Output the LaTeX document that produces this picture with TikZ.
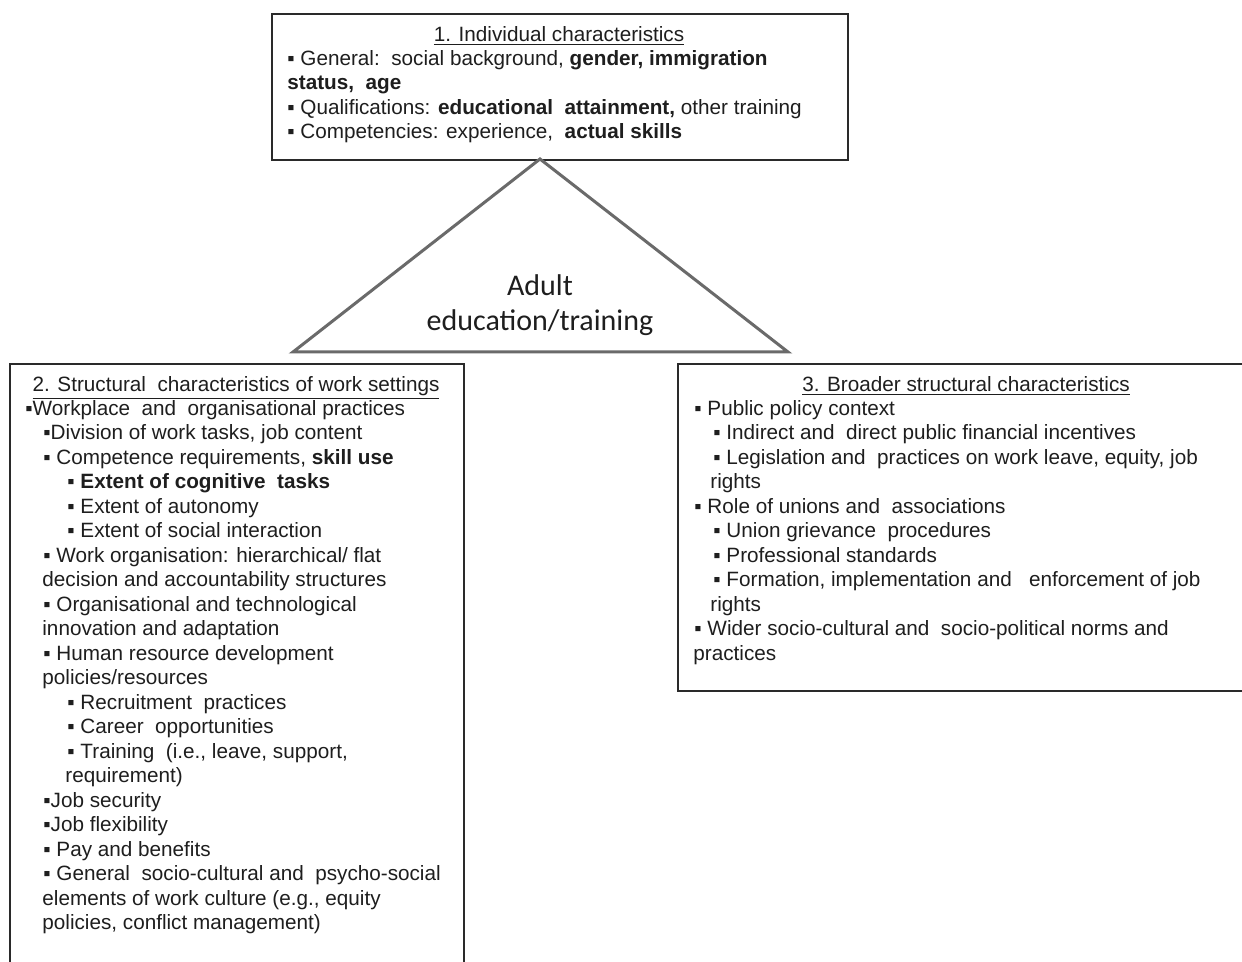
\documentclass[tikz,border=0pt]{standalone}
\usepackage{fontspec}
\setmainfont{Liberation Sans}
\newfontfamily\calib{Carlito}
\definecolor{ink}{HTML}{1E1E1E}
\definecolor{edge}{HTML}{2A2A2A}
\definecolor{trig}{HTML}{6A6A6A}
\newcommand{\bl}{\char"25AA\relax}
\begin{document}
\begin{tikzpicture}[x=0.5pt,y=-0.5pt,
  boxframe/.style={draw=edge, line width=1.2pt, fill=none, anchor=north west, inner sep=0pt},
  boxtitle/.style={anchor=base, inner sep=0pt, text=ink, font=\fontsize{10.35}{12.25}\selectfont},
  boxbody/.style={anchor=north west, inner sep=0pt, align=left, text=ink, font=\fontsize{10.35}{12.25}\selectfont},
  trishape/.style={draw=trig, line width=1.5pt, line join=miter},
  trilabel/.style={align=center, inner sep=0pt, text=ink, font=\calib\fontsize{15}{17.5}\selectfont}]
\useasboundingbox (0,0) rectangle (1242,962);
\fill[white] (0,0) rectangle (1242,962);

% boxes
\node[boxframe, minimum width=288pt, minimum height=73pt] (box1) at (271,13) {};
\node[boxframe, minimum width=227pt, minimum height=306pt] (box2) at (9,363) {};
\node[boxframe, minimum width=289pt, minimum height=163.5pt] (box3) at (677,363) {};

% triangle
\coordinate (apex) at (540,159);
\coordinate (bleft) at (293,352);
\coordinate (bright) at (788,352);
\draw[trishape] (apex) -- (bright) -- (bleft) -- cycle;
\node[trilabel] (adult) at (540,305) {Adult\\education/training};

% box 1
\node[boxtitle] (t1) at (559,41.5) {\underline{1. Individual characteristics}};
\node[boxbody] (b1) at (287,50) {%
\bl\ General:\ \ social background, \textbf{gender, immigration}\\
\textbf{status,\ \ age}\\
\bl\ Qualifications: \textbf{educational\ \ attainment,} other training\\
\bl\ Competencies: experience,\ \ \textbf{actual skills}};

% box 2
\node[boxtitle] (t2) at (236,391.5) {\underline{2. Structural\ \ characteristics of work settings}};
\node[boxbody] (b2) at (25,400) {%
\bl Workplace\ \ and\ \ organisational practices\\
\hspace*{9pt}\bl Division of work tasks, job content\\
\hspace*{9pt}\bl\ Competence requirements, \textbf{skill use}\\
\hspace*{21pt}\bl\ \textbf{Extent of cognitive\ \ tasks}\\
\hspace*{21pt}\bl\ Extent of autonomy\\
\hspace*{21pt}\bl\ Extent of social interaction\\
\hspace*{9pt}\bl\ Work organisation: hierarchical/ flat\\
\hspace*{8.5pt}decision and accountability structures\\
\hspace*{9pt}\bl\ Organisational and technological\\
\hspace*{8.5pt}innovation and adaptation\\
\hspace*{9pt}\bl\ Human resource development\\
\hspace*{8.5pt}policies/resources\\
\hspace*{21pt}\bl\ Recruitment\ \ practices\\
\hspace*{21pt}\bl\ Career\ \ opportunities\\
\hspace*{21pt}\bl\ Training\ \ (i.e., leave, support,\\
\hspace*{20pt}requirement)\\
\hspace*{9pt}\bl Job security\\
\hspace*{9pt}\bl Job flexibility\\
\hspace*{9pt}\bl\ Pay and benefits\\
\hspace*{9pt}\bl\ General\ \ socio-cultural and\ \ psycho-social\\
\hspace*{8.5pt}elements of work culture (e.g., equity\\
\hspace*{8.5pt}policies, conflict management)};

% box 3
\node[boxtitle] (t3) at (966,391.5) {\underline{3. Broader structural characteristics}};
\node[boxbody] (b3) at (693,400) {%
\hspace*{0.5pt}\bl\ Public policy context\\
\hspace*{10pt}\bl\ Indirect and\ \ direct public financial incentives\\
\hspace*{10pt}\bl\ Legislation and\ \ practices on work leave, equity, job\\
\hspace*{8.5pt}rights\\
\hspace*{0.5pt}\bl\ Role of unions and\ \ associations\\
\hspace*{10pt}\bl\ Union grievance\ \ procedures\\
\hspace*{10pt}\bl\ Professional standards\\
\hspace*{10pt}\bl\ Formation, implementation and\ \ \ enforcement of job\\
\hspace*{8.5pt}rights\\
\hspace*{0.5pt}\bl\ Wider socio-cultural and\ \ socio-political norms and\\
practices};
\end{tikzpicture}
\end{document}
